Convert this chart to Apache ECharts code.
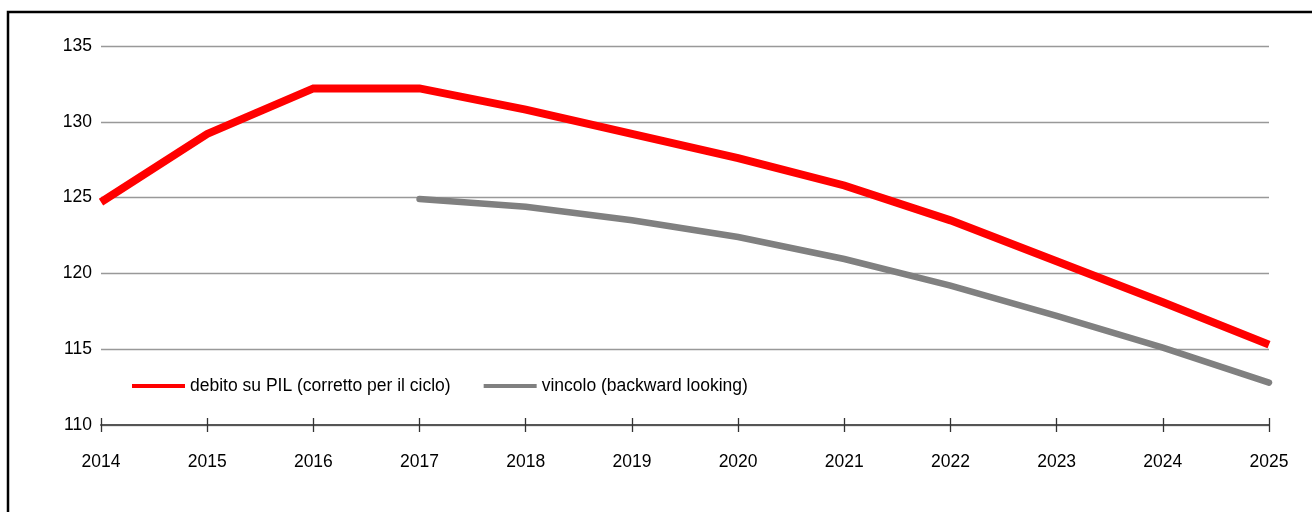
<!DOCTYPE html>
<html>
<head>
<meta charset="utf-8">
<script src="https://cdn.jsdelivr.net/npm/echarts@6/dist/echarts.min.js"></script>
<style>
  html, body { margin: 0; padding: 0; background: #fff; }
  #main { width: 1312px; height: 512px; }
</style>
</head>
<body>
<div id="main"></div>
<script>
var years = ["2014", "2015", "2016", "2017", "2018", "2019", "2020", "2021", "2022", "2023", "2024", "2025"];
var debitoData = [124.7, 129.2, 132.2, 132.2, 130.8, 129.2, 127.6, 125.8, 123.5, 120.8, 118.1, 115.3];
var vincoloData = [null, null, null, 124.9, 124.4, 123.5, 122.4, 120.95, 119.2, 117.2, 115.1, 112.8];
var seriesNames = ["debito su PIL (corretto per il ciclo)", "vincolo (backward looking)"];

var font = "Liberation Sans, Arial, sans-serif";

var option = {
  animation: false,
  backgroundColor: "#fff",
  graphic: [
    {
      type: "rect",
      shape: { x: 8, y: 12, width: 1400, height: 600 },
      style: { fill: null, stroke: "#000", lineWidth: 2.5 },
      silent: true
    }
  ],
  legend: {
    data: seriesNames,
    left: 132,
    top: 377,
    padding: 0,
    icon: "rect",
    itemWidth: 53,
    itemHeight: 4,
    itemGap: 33,
    textStyle: { fontFamily: font, fontSize: 17.5, color: "#000" }
  },
  grid: {
    left: 101,
    right: 43,
    top: 46,
    bottom: 87
  },
  xAxis: [
    {
      type: "category",
      boundaryGap: false,
      data: years,
      axisLine: { lineStyle: { color: "#555", width: 2 } },
      axisTick: { length: 7, lineStyle: { color: "#333", width: 1.3 } },
      axisLabel: { margin: 28, fontFamily: font, fontSize: 17.5, color: "#000" },
      splitLine: { show: false }
    },
    {
      type: "category",
      position: "bottom",
      boundaryGap: false,
      data: years,
      axisLine: { show: false },
      axisTick: { inside: true, length: 7, lineStyle: { color: "#333", width: 1.3 } },
      axisLabel: { show: false },
      splitLine: { show: false }
    }
  ],
  yAxis: {
    type: "value",
    min: 110,
    max: 135,
    interval: 5,
    axisLine: { show: false },
    axisTick: { show: false },
    axisLabel: { margin: 9, fontFamily: font, fontSize: 17.5, color: "#000" },
    splitLine: { lineStyle: { color: "#999", width: 1.3 } }
  },
  series: [
    {
      name: seriesNames[0],
      type: "line",
      data: debitoData,
      showSymbol: false,
      symbol: "none",
      color: "#ff0000",
      lineStyle: { color: "#ff0000", width: 8, cap: "butt", join: "miter" },
      z: 3
    },
    {
      name: seriesNames[1],
      type: "line",
      data: vincoloData,
      showSymbol: false,
      symbol: "none",
      color: "#808080",
      lineStyle: { color: "#808080", width: 6.5, cap: "round", join: "miter" },
      z: 2
    }
  ]
};

var myChart = echarts.init(document.getElementById("main"));
myChart.setOption(option);
</script>
</body>
</html>
